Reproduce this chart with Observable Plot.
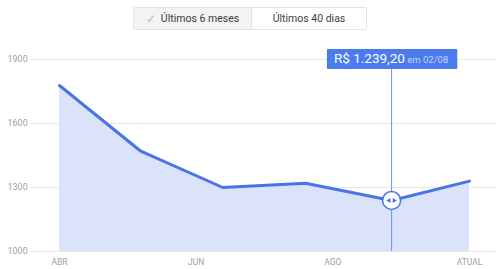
<!DOCTYPE html>
<html>
<head>
<meta charset="utf-8">
<script src="https://cdn.jsdelivr.net/npm/d3@7"></script>
<script src="https://cdn.jsdelivr.net/npm/@observablehq/plot@0.6"></script>
<style>
  html, body { margin: 0; padding: 0; background: #fff; }
  body { width: 500px; height: 269px; overflow: hidden; font-family: Roboto, "Noto Sans", sans-serif; }
  #wrap { position: relative; width: 500px; height: 269px; }
  #chart { position: absolute; left: 0; top: 0; }
  #tabs { position: absolute; left: 133px; top: 7px; display: flex; height: 23px; border: 1px solid #e3e3e3; border-radius: 2px; box-sizing: border-box; font-size: 10.5px; color: #3c3c3c; }
  #tabs div { display: flex; align-items: center; justify-content: center; box-sizing: border-box; }
  #tabs .on { width: 118px; background: #f3f3f3; border-right: 1px solid #e3e3e3; }
  #tabs .off { width: 114px; background: #fff; }
  #tabs .chk { color: #b8b8b8; margin-right: 5px; font-size: 12px; }
</style>
</head>
<body>
<div id="wrap">
  <div id="chart"></div>
  <div id="tabs"></div>
</div>
<script>
// Data
const periods = ["Últimos 6 meses", "Últimos 40 dias"];
const xPos = [0, 1.19, 2.39, 3.6, 4.86, 6];
const prices = [1778, 1470, 1300, 1320, 1239.2, 1330];
const xTickPos = [0, 2, 4, 6];
const xTickLabels = ["ABR", "JUN", "AGO", "ATUAL"];
const yTicks = [1000, 1300, 1600, 1900];
const selX = 4.86;
const selPrice = 1239.2;
const selPriceLabel = "R$ 1.239,20";
const selDateLabel = "em 02/08";

// Tabs
const tabs = document.getElementById("tabs");
periods.forEach((p, i) => {
  const d = document.createElement("div");
  d.className = i === 0 ? "on" : "off";
  if (i === 0) {
    const c = document.createElement("span");
    c.className = "chk";
    c.textContent = "✓";
    d.append(c);
  }
  d.append(document.createTextNode(p));
  tabs.append(d);
});

const data = xPos.map((x, i) => ({x, price: prices[i]}));
const lineColor = "rgb(74,116,230)";
const ruleColor = "#6a90f0";
const tipColor = "rgb(75,123,236)";

const chart = Plot.plot({
  width: 500,
  height: 269,
  marginLeft: 30,
  marginRight: 4,
  marginTop: 59,
  marginBottom: 18,
  style: {fontFamily: "Roboto, sans-serif", background: "transparent", overflow: "visible"},
  x: {domain: [0, 6], range: [59, 469]},
  y: {domain: [1000, 1900]},
  marks: [
    Plot.ruleY(yTicks, {stroke: "#e8e8e8", strokeWidth: 1}),
    Plot.areaY(data, {x: "x", y1: 1000, y2: "price", fill: "#dbe3fb"}),
    Plot.line(data, {x: "x", y: "price", stroke: lineColor, strokeWidth: 3, strokeLinejoin: "round"}),
    Plot.ruleX([selX], {y1: 1000, y2: 1900, stroke: ruleColor, strokeWidth: 1}),
    Plot.dot([{x: selX, price: selPrice}], {x: "x", y: "price", r: 9, fill: "white", stroke: lineColor, strokeWidth: 1.5}),
    Plot.dot([{x: selX, price: selPrice}], {x: "x", y: "price", symbol: "triangle", r: 1.8, rotate: 90, dx: 2.5, fill: lineColor, stroke: "none"}),
    Plot.dot([{x: selX, price: selPrice}], {x: "x", y: "price", symbol: "triangle", r: 1.8, rotate: -90, dx: -2.5, fill: lineColor, stroke: "none"}),
    Plot.axisY(yTicks, {tickSize: 0, tickPadding: 23, textAnchor: "start", tickFormat: "d", fontSize: 9, fill: "#a0a0a0", label: null}),
    Plot.axisX(xTickPos, {tickSize: 0, tickPadding: 7, tickFormat: (d) => xTickLabels[xTickPos.indexOf(d)], fontSize: 8.5, fill: "#a0a0a0", label: null})
  ]
});
document.getElementById("chart").append(chart);

// Tooltip label
const xs = chart.scale("x"), ys = chart.scale("y");
const cx = xs.apply(selX), cy = ys.apply(1900);
const svg = d3.select(chart);
const g = svg.append("g");
const t = g.append("text")
  .attr("x", cx).attr("y", cy).attr("dy", "0.36em")
  .attr("text-anchor", "middle")
  .style("font-family", "Roboto, sans-serif");
t.append("tspan").text(selPriceLabel).attr("font-size", 13.5).attr("font-weight", 400).attr("fill", "#fff");
t.append("tspan").text(" " + selDateLabel).attr("font-size", 9.5).attr("fill", "#c8d5fb");
const bb = t.node().getBBox();
g.insert("rect", "text")
  .attr("x", bb.x - 7).attr("width", bb.width + 16)
  .attr("y", cy - 10).attr("height", 20)
  .attr("fill", tipColor).attr("rx", 1);
</script>
</body>
</html>
